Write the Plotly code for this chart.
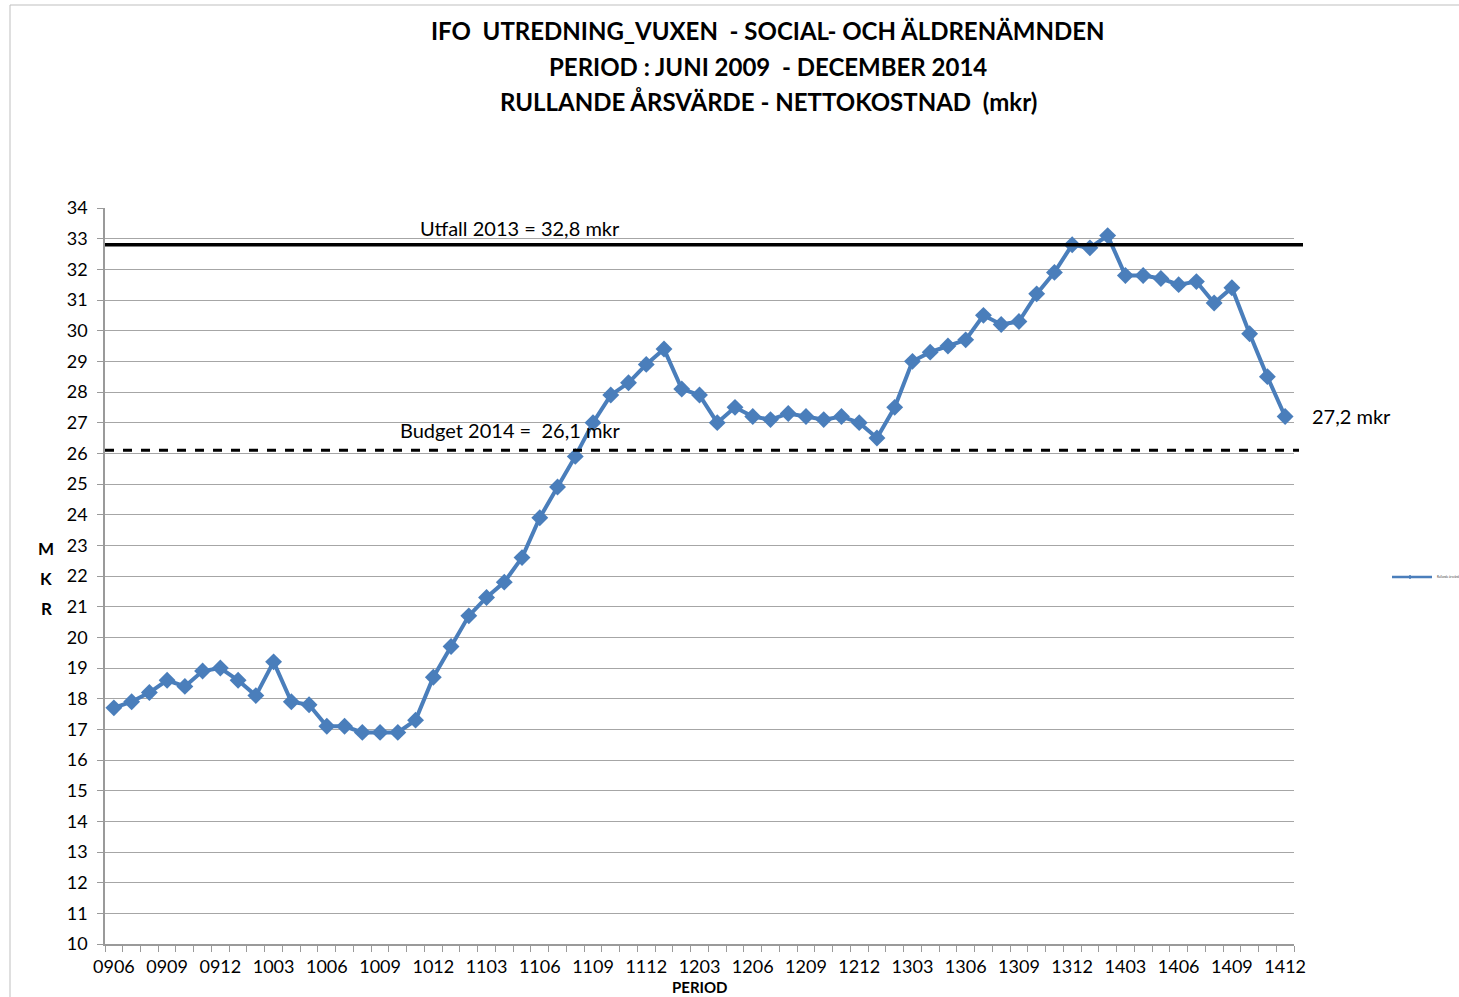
import plotly.graph_objects as go

# Rolling annual net cost (mkr), monthly from June 2009 to December 2014
periods = [
    "0906", "0907", "0908", "0909", "0910", "0911", "0912",
    "1001", "1002", "1003", "1004", "1005", "1006", "1007", "1008", "1009", "1010", "1011", "1012",
    "1101", "1102", "1103", "1104", "1105", "1106", "1107", "1108", "1109", "1110", "1111", "1112",
    "1201", "1202", "1203", "1204", "1205", "1206", "1207", "1208", "1209", "1210", "1211", "1212",
    "1301", "1302", "1303", "1304", "1305", "1306", "1307", "1308", "1309", "1310", "1311", "1312",
    "1401", "1402", "1403", "1404", "1405", "1406", "1407", "1408", "1409", "1410", "1411", "1412",
]
values = [
    17.7, 17.9, 18.2, 18.6, 18.4, 18.9, 19.0,
    18.6, 18.1, 19.2, 17.9, 17.8, 17.1, 17.1, 16.9, 16.9, 16.9, 17.3, 18.7,
    19.7, 20.7, 21.3, 21.8, 22.6, 23.9, 24.9, 25.9, 27.0, 27.9, 28.3, 28.9,
    29.4, 28.1, 27.9, 27.0, 27.5, 27.2, 27.1, 27.3, 27.2, 27.1, 27.2, 27.0,
    26.5, 27.5, 29.0, 29.3, 29.5, 29.7, 30.5, 30.2, 30.3, 31.2, 31.9, 32.8,
    32.7, 33.1, 31.8, 31.8, 31.7, 31.5, 31.6, 30.9, 31.4, 29.9, 28.5, 27.2,
]
utfall_2013 = 32.8
budget_2014 = 26.1
y_ticks = list(range(10, 35))
series_name = "Rullande årsvärde"

FONT = "Lato"
BLUE = "#4A7EBB"
idx = list(range(len(periods)))
label_idx = idx[::3]
label_txt = periods[::3]

fig = go.Figure()
fig.add_trace(go.Scatter(
    x=idx, y=values, mode="lines+markers", name=series_name,
    line=dict(color=BLUE, width=4),
    marker=dict(symbol="diamond", size=13, color=BLUE),
    showlegend=False,
))

W, H = 1459, 997
L, R, T, B = 105, 1294, 208, 944

def px_x(p):
    return (p - L) / (R - L)

def px_y(p):
    return (B - p) / (B - T)

def fmt(v):
    return str(v).replace(".", ",")

fig.update_layout(
    width=W, height=H,
    margin=dict(l=L, r=W - R, t=T, b=H - B),
    paper_bgcolor="white", plot_bgcolor="white",
    font=dict(family=FONT, color="black", size=18),
    showlegend=False,
    xaxis=dict(
        range=[-0.5, len(periods) - 0.5],
        tickmode="array", tickvals=label_idx, ticktext=label_txt,
        ticks="", showgrid=False, zeroline=False,
        showline=True, linecolor="#9A9A9A", linewidth=1.5,
        tickfont=dict(size=18, family=FONT), ticklabelstandoff=6,
        minor=dict(tickmode="array", tickvals=[i - 0.5 for i in range(len(periods) + 1)],
                   ticks="outside", ticklen=6, tickcolor="#9A9A9A", tickwidth=1, showgrid=False),
    ),
    yaxis=dict(
        range=[10, 34], tickmode="array", tickvals=y_ticks,
        ticks="outside", ticklen=6, tickcolor="#9A9A9A",
        showgrid=True, gridcolor="#A6A6A6", gridwidth=1.2,
        zeroline=False, showline=True, linecolor="#9A9A9A", linewidth=1.5,
        tickfont=dict(size=18, family=FONT), ticklabelstandoff=6,
    ),
)

# Reference lines: result 2013 (solid) and budget 2014 (dashed)
fig.add_shape(type="line", xref="paper", yref="y", x0=0, x1=px_x(1303),
              y0=utfall_2013, y1=utfall_2013, line=dict(color="black", width=3.5))
fig.add_shape(type="line", xref="paper", yref="y", x0=0, x1=px_x(1299),
              y0=budget_2014, y1=budget_2014, line=dict(color="black", width=3, dash="dash"))

# Chart area border (left and top edges)
fig.add_shape(type="line", xref="paper", yref="paper", x0=px_x(10), x1=px_x(10),
              y0=px_y(5), y1=px_y(997), line=dict(color="#BFBFBF", width=1))
fig.add_shape(type="line", xref="paper", yref="paper", x0=px_x(10), x1=px_x(1459),
              y0=px_y(5), y1=px_y(5), line=dict(color="#BFBFBF", width=1))

# Small legend key on the right
fig.add_shape(type="line", xref="paper", yref="paper", x0=px_x(1392), x1=px_x(1432),
              y0=px_y(577), y1=px_y(577), line=dict(color=BLUE, width=2.5))
fig.add_shape(type="path", xref="paper", yref="paper",
              path=(f"M {px_x(1410)} {px_y(575)} L {px_x(1412)} {px_y(577)} "
                    f"L {px_x(1410)} {px_y(579)} L {px_x(1408)} {px_y(577)} Z"),
              fillcolor=BLUE, line=dict(color=BLUE, width=0.5))
fig.add_annotation(text=series_name, xref="paper", yref="paper",
                   x=px_x(1435), y=px_y(577), showarrow=False, xanchor="left", yanchor="middle",
                   font=dict(size=3, color="#444444"))

titles = [
    "IFO  UTREDNING_VUXEN  - SOCIAL- OCH ÄLDRENÄMNDEN",
    "PERIOD : JUNI 2009  - DECEMBER 2014",
    "RULLANDE ÅRSVÄRDE - NETTOKOSTNAD  (mkr)",
]
for text, yy in zip(titles, [30, 66, 101]):
    fig.add_annotation(text=f"<b>{text}</b>", xref="paper", yref="paper",
                       x=px_x(768), y=px_y(yy), showarrow=False,
                       font=dict(size=24, family=FONT), xanchor="center", yanchor="middle")

fig.add_annotation(text=f"Utfall 2013 = {fmt(utfall_2013)} mkr",
                   xref="paper", yref="paper", x=px_x(418), y=px_y(228),
                   showarrow=False, xanchor="left", yanchor="middle", font=dict(size=20))
fig.add_annotation(text=f"Budget 2014 =  {fmt(budget_2014)} mkr",
                   xref="paper", yref="paper", x=px_x(398), y=px_y(430),
                   showarrow=False, xanchor="left", yanchor="middle", font=dict(size=20))
fig.add_annotation(text=f"{fmt(values[-1])} mkr",
                   xref="paper", yref="paper", x=px_x(1310), y=px_y(416),
                   showarrow=False, xanchor="left", yanchor="middle", font=dict(size=20))

for letter, yy in zip("MKR", [548, 578, 608]):
    fig.add_annotation(text=f"<b>{letter}</b>", xref="paper", yref="paper",
                       x=px_x(46), y=px_y(yy), showarrow=False, xanchor="center",
                       yanchor="middle", font=dict(size=17))
fig.add_annotation(text="<b>PERIOD</b>", xref="paper", yref="paper",
                   x=px_x(700), y=px_y(987), showarrow=False, xanchor="center", yanchor="middle",
                   font=dict(size=15))

fig.write_html("out.html")
